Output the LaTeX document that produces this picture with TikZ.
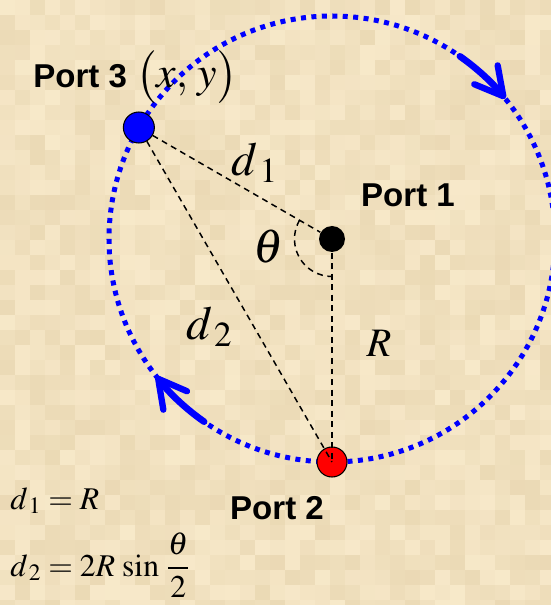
\documentclass[tikz,border=0pt]{standalone}
\usepackage{mathptmx}
\usepackage[no-math]{fontspec}
\setsansfont{Liberation Sans}
\usepackage{tikz}
\usetikzlibrary{arrows.meta}

\definecolor{parch}{RGB}{250,236,206}
\definecolor{parchdark}{RGB}{222,202,160}

\begin{document}
\begin{tikzpicture}[
        port/.style={circle, draw=black, line width=0.6pt, inner sep=0pt},
        ring/.style={blue, line width=2.85pt, dash pattern=on 2.85pt off 3.1pt},
        flow/.style={blue, line width=3.8pt, line cap=round,
            -{Straight Barb[length=5.5mm, width=6mm, line width=3.6pt, round]}},
        chord/.style={black, line width=0.85pt, dash pattern=on 3.4pt off 2.6pt},
        portlabel/.style={font=\fontsize{18.8}{22}\selectfont\sffamily\bfseries},
        biglabel/.style={font=\fontsize{27}{32}\selectfont},
        formula/.style={font=\fontsize{18}{22}\selectfont, anchor=base west, inner sep=0pt}]
        % --- 1. Parameters ---
        \def\R{4.46}
        \def\portAngle{150}
        \def\markR{0.75}
        % --- 2. Parchment ---
        \useasboundingbox (-6.64,-7.32) rectangle (4.36,4.78);
        \fill[parch] (-6.64,-7.32) rectangle (4.36,4.78);
        \pgfmathsetseed{42}
        \foreach \i in {0,...,36} {
            \foreach \j in {0,...,40} {
                \pgfmathsetmacro{\shade}{int(random(10,55))}
                \fill[parchdark!\shade!parch] ({-6.64+0.3*\i},{4.78-0.3*\j}) rectangle ++(0.3,-0.3);
            }
        }
        % --- 3. Ring and flow ---
        \coordinate (O) at (0,0);
        \draw[ring] (O) circle (\R);
        \draw[flow] (55:\R) arc (55:39:\R);
        \draw[flow] (235:\R) arc (235:218:\R);
        % --- 4. Ports ---
        \node[port, fill=black, draw=none, minimum size=0.52cm] (p1) at (O) {};
        \node[port, fill=red, minimum size=0.6cm] (p2) at (270:\R) {};
        \node[port, fill=blue, minimum size=0.62cm] (p3) at (\portAngle:\R) {};
        \draw[chord] (p3) -- (p1);
        \draw[chord] (p3) -- (p2.center);
        \draw[chord] (p1) -- (p2.center);
        \draw[chord] (\portAngle:\markR) arc (\portAngle:270:\markR);
        % --- 5. Labels ---
        \node[portlabel, anchor=base west, inner sep=0pt] (l3) at (-5.98,3.02)
            {Port 3 {\fontsize{25}{30}\selectfont$\bigl(x,\,y\bigr)$}};
        \node[portlabel] (l1) at (1.52,0.88) {Port 1};
        \node[portlabel] (l2) at (-1.1,-5.38) {Port 2};
        \node[biglabel] (d1) at (-1.54,1.52) {$d_{\,1}$};
        \node[biglabel] (th) at (-1.26,-0.16) {$\theta$};
        \node[biglabel] (d2) at (-2.45,-1.76) {$d_{\,2}$};
        \node[font=\fontsize{23}{28}\selectfont] (rr) at (0.94,-2.08) {$R$};
        \node[formula] (f1) at (-6.44,-5.4) {$d_{\,1} = R$};
        \node[formula] (f2) at (-6.44,-6.74) {$d_{\,2} = 2R\,\sin\,\displaystyle\frac{\theta}{2}$};
\end{tikzpicture}
\end{document}
